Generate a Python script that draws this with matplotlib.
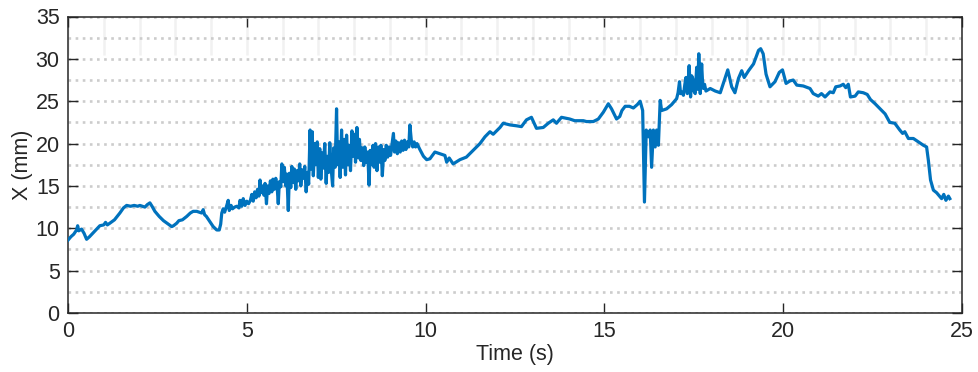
import numpy as np
import matplotlib
matplotlib.use("Agg")
import matplotlib.pyplot as plt
from matplotlib.ticker import MultipleLocator

# ---- data ----
time_s = [
    0.00, 0.08, 0.16, 0.24, 0.27, 0.30, 0.38, 0.45, 0.52, 0.60, 0.71, 0.80, 0.89, 1.00, 1.05, 1.10,
    1.17, 1.30, 1.45, 1.55, 1.64, 1.75, 1.85, 1.95, 2.01, 2.15, 2.22, 2.29, 2.35, 2.43, 2.55, 2.67,
    2.80, 2.90, 2.95, 3.04, 3.10, 3.20, 3.32, 3.42, 3.50, 3.60, 3.74, 3.78, 3.82, 3.87, 3.95, 4.06,
    4.16, 4.23, 4.27, 4.30, 4.34, 4.38, 4.44, 4.48, 4.51, 4.56, 4.60, 4.66, 4.72, 4.78,
    4.81, 4.86, 4.90, 4.95, 5.00, 5.05,
    5.10, 5.14, 5.18, 5.22, 5.26, 5.30, 5.34, 5.37, 5.40, 5.44, 5.48, 5.51, 5.55, 5.58, 5.62, 5.66,
    5.70, 5.73, 5.77, 5.81, 5.85, 5.88, 5.91, 5.95, 5.98, 6.02, 6.05, 6.09, 6.12, 6.16, 6.19, 6.23,
    6.26, 6.30, 6.33, 6.37, 6.40, 6.44, 6.48, 6.51, 6.55, 6.59, 6.62, 6.66, 6.70, 6.73, 6.77, 6.80,
    6.83, 6.86, 6.90, 6.93, 6.97, 7.00, 7.04, 7.07, 7.11, 7.14, 7.18, 7.22, 7.25, 7.29, 7.32, 7.36,
    7.40, 7.43, 7.47, 7.51, 7.54, 7.58, 7.61, 7.65, 7.68, 7.72, 7.76, 7.79, 7.83, 7.86, 7.90, 7.94,
    7.97, 8.01, 8.04, 8.08, 8.12, 8.15, 8.19, 8.23, 8.27, 8.30, 8.34, 8.38, 8.42, 8.45, 8.49, 8.53,
    8.56, 8.60, 8.64, 8.68, 8.71, 8.75, 8.79, 8.83, 8.86, 8.90, 8.94, 8.98, 9.02, 9.06, 9.10, 9.13,
    9.17, 9.21, 9.25, 9.29, 9.33, 9.37, 9.41, 9.45, 9.49, 9.53, 9.56, 9.60, 9.64, 9.68, 9.72, 9.76,
    9.84, 9.94, 10.03, 10.12, 10.26,
    10.40, 10.54, 10.59, 10.66, 10.77, 10.96, 11.14, 11.33, 11.52, 11.66, 11.80, 11.89, 12.08, 12.17,
    12.36, 12.54, 12.68, 12.82, 12.96, 13.10, 13.29, 13.43, 13.57, 13.66, 13.80, 14.03, 14.17, 14.41,
    14.50, 14.69, 14.83, 14.97, 15.11, 15.20, 15.34, 15.43,
    15.49, 15.58, 15.70, 15.81, 15.92, 16.00, 16.07, 16.12, 16.17, 16.23, 16.28, 16.32, 16.37, 16.42,
    16.46, 16.51, 16.56, 16.60, 16.74, 16.88, 17.02, 17.06, 17.10, 17.13, 17.16, 17.21, 17.25, 17.28,
    17.32, 17.37, 17.41, 17.44, 17.47, 17.50, 17.54, 17.58, 17.61, 17.64, 17.68, 17.72, 17.75, 17.77,
    17.80, 17.84, 17.96, 18.10, 18.24, 18.38, 18.45, 18.56,
    18.65, 18.75, 18.84, 18.91, 19.03, 19.17, 19.31, 19.37,
    19.44, 19.52, 19.63, 19.77, 19.89, 19.98, 20.08, 20.19, 20.28, 20.38, 20.56, 20.75, 20.84, 20.98,
    21.07, 21.17, 21.31, 21.40, 21.47, 21.59, 21.68, 21.75, 21.82, 21.88, 22.01, 22.10, 22.24, 22.35,
    22.44, 22.57, 22.71, 22.85, 22.98, 23.12, 23.26, 23.34, 23.40, 23.50, 23.64, 23.78, 23.92, 24.01,
    24.06, 24.12, 24.20, 24.29, 24.35, 24.43, 24.49, 24.55, 24.62, 24.66,
]
x_mm = [
    8.6, 9.0, 9.3, 9.8, 10.3, 9.7, 9.9, 9.4, 8.7, 9.0, 9.5, 9.9, 10.3, 10.4, 10.7, 10.4,
    10.6, 11.0, 11.8, 12.4, 12.7, 12.6, 12.7, 12.6, 12.7, 12.5, 12.8, 13.0, 12.6, 12.0, 11.4, 10.9,
    10.5, 10.2, 10.3, 10.6, 10.9, 11.0, 11.4, 11.8, 12.0, 12.0, 11.8, 12.2, 11.6, 11.4, 10.9, 10.2,
    9.8, 9.8, 10.5, 11.8, 12.3, 11.9, 12.7, 13.3, 12.1, 12.7, 12.3, 12.5, 12.6, 12.4,
    13.3, 12.6, 13.5, 12.7, 13.2, 12.9,
    13.3, 14.0, 13.2, 14.3, 13.6, 14.6, 13.8, 15.7, 14.2, 15.0, 13.9, 15.3, 12.9, 15.0, 14.1, 15.6,
    14.3, 15.8, 14.6, 15.9, 14.8, 12.9, 15.5, 14.9, 17.6, 15.5, 17.2, 15.0, 16.4, 12.1, 16.5, 14.8,
    17.3, 15.4, 17.0, 14.6, 16.8, 15.6, 17.6, 15.0, 16.9, 15.9, 17.3, 14.3, 16.6, 15.2, 21.6, 17.0,
    21.4, 16.2, 20.0, 17.5, 20.2, 16.0, 19.4, 15.8, 18.9, 17.1, 20.0, 15.3, 18.5, 16.6, 20.1, 17.0,
    15.0, 19.5, 17.2, 24.1, 17.5, 20.2, 16.0, 21.6, 17.2, 20.5, 16.3, 21.0, 17.5, 19.8, 16.8, 21.5,
    18.5, 21.1, 17.8, 21.9, 18.3, 20.5, 18.0, 19.5, 17.4, 19.6, 17.8, 19.0, 15.1, 19.2, 17.5, 19.8,
    17.2, 20.0, 16.8, 19.6, 17.8, 19.8, 16.2, 19.3, 18.0, 19.8, 18.4, 19.6, 18.6, 19.9, 21.2, 19.0,
    20.3, 18.8, 20.1, 19.0, 20.3, 19.2, 20.4, 19.3, 20.2, 19.6, 22.2, 20.4, 19.6, 20.2, 19.6, 20.0,
    19.3, 18.5, 18.1, 18.2, 19.0,
    18.8, 18.6, 17.8, 18.3, 17.6, 18.1, 18.4, 19.2, 20.0, 20.8, 21.4, 21.1, 21.9, 22.4,
    22.2, 22.1, 22.0, 22.8, 23.1, 21.8, 21.9, 22.4, 22.8, 22.4, 23.1, 22.9, 22.7, 22.7,
    22.6, 22.6, 22.9, 23.7, 24.7, 24.1, 22.9, 23.2,
    23.9, 24.4, 24.4, 24.2, 24.6, 25.0, 23.9, 13.1, 21.6, 20.8, 21.6, 17.2, 21.6, 19.6,
    21.6, 19.8, 25.1, 23.9, 24.1, 24.6, 25.3, 26.0, 27.3, 25.9, 26.1, 25.7, 27.0, 27.8,
    25.9, 29.2, 25.5, 28.0, 27.7, 26.2, 25.9, 29.0, 26.4, 30.6, 25.9, 29.4, 26.8, 26.5,
    27.0, 26.2, 26.5, 26.2, 26.0, 27.8, 28.7, 26.7,
    26.0, 27.7, 28.6, 27.8, 28.6, 29.4, 31.0, 31.2,
    30.6, 28.2, 26.7, 27.3, 28.4, 28.7, 27.1, 27.4, 27.5, 26.9, 26.8, 26.5, 25.9, 25.6,
    25.9, 25.5, 26.1, 26.0, 26.7, 26.8, 27.0, 26.6, 27.0, 25.5, 25.6, 26.1, 26.0, 25.8,
    25.2, 24.7, 24.1, 23.5, 22.5, 22.4, 21.6, 21.2, 21.4, 20.6, 20.6, 20.2, 19.8, 19.6,
    18.0, 15.7, 14.5, 14.2, 13.9, 13.5, 14.0, 13.3, 13.8, 13.5,
]
x_ticks = [0, 5, 10, 15, 20, 25]
y_ticks = [0, 5, 10, 15, 20, 25, 30, 35]
x_label = "Time (s)"
y_label = "X (mm)"

# ---- style ----
plt.rcParams['font.family'] = ['Liberation Sans', 'DejaVu Sans']
txt = '#262626'
fs = 15.5

fig = plt.figure(figsize=(9.79, 3.72), dpi=100)
ax = fig.add_axes([68/979, 1 - 313/372, (962 - 68)/979, (313 - 16.5)/372])

ax.set_xlim(0, 25)
ax.set_ylim(0, 35)
ax.set_xticks(x_ticks)
ax.set_yticks(y_ticks)
ax.yaxis.set_minor_locator(MultipleLocator(2.5))

# faint vertical lines in upper band
ax.vlines(np.arange(0, 26, 1), 30.4, 35, colors='#f1f1f1', linewidth=1.8, zorder=0)

ax.grid(axis='y', which='both', color='#cccccc', linestyle=(0, (1, 1.7)), linewidth=1.9, zorder=0)
ax.set_axisbelow(True)

ax.plot(time_s, x_mm, color='#0072BD', linewidth=2.3, solid_joinstyle='round', zorder=3)

for s in ax.spines.values():
    s.set_color(txt)
    s.set_linewidth(1.1)

ax.tick_params(which='major', direction='in', length=7, width=1.0, top=True, right=True,
               colors=txt, labelsize=fs, pad=6)
ax.tick_params(which='minor', length=0)
ax.set_xlabel(x_label, fontsize=fs, color=txt, labelpad=1)
ax.set_ylabel(y_label, fontsize=fs, color=txt, labelpad=2)

fig.savefig('out.png', dpi=100)
